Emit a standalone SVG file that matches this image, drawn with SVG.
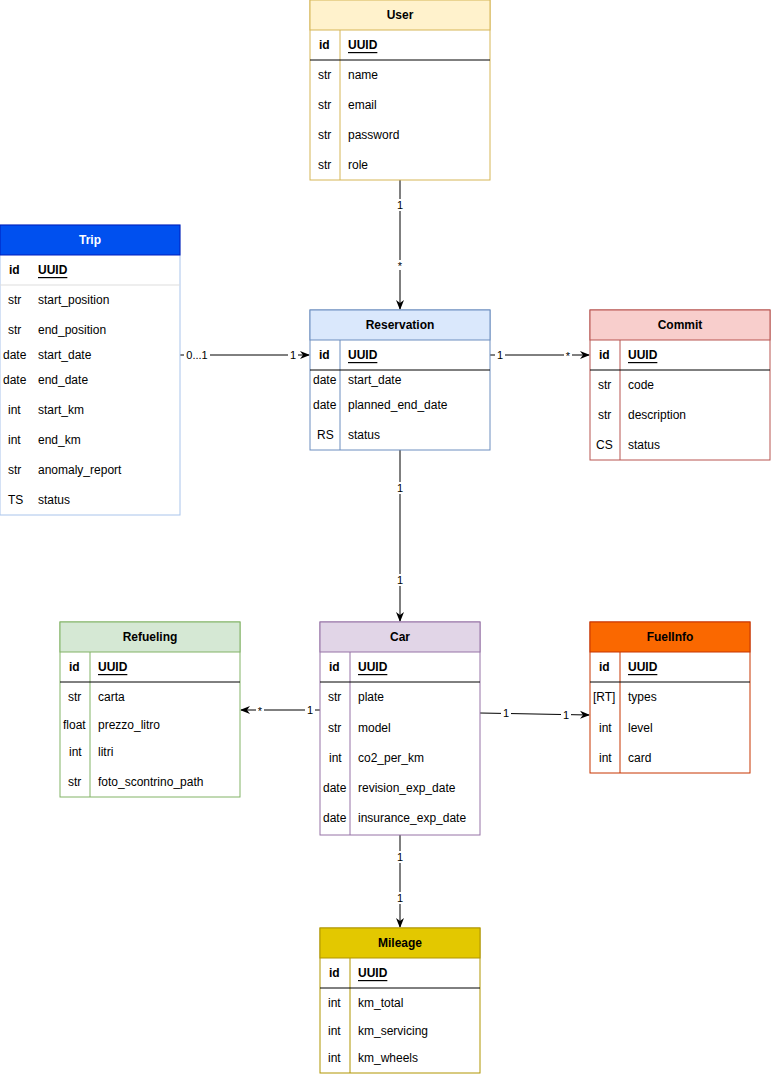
<svg xmlns="http://www.w3.org/2000/svg" width="771" height="1074" viewBox="0 0 771 1074">
<style>
text{font-family:"Liberation Sans",Arial,sans-serif;font-size:12px;fill:#000;dominant-baseline:central}
.h{font-weight:bold;text-anchor:middle}
.b{font-weight:bold}
.u{font-weight:bold;text-decoration:underline}
.t{text-anchor:middle}
.c{stroke:#000;stroke-width:1;fill:none;marker-end:url(#a)}
.lb{font-size:11px;text-anchor:middle}
</style>
<defs>
<marker id="a" viewBox="0 0 10 10" refX="9" refY="5" markerWidth="10" markerHeight="10" markerUnits="userSpaceOnUse" orient="auto"><path d="M0,1 L10,5 L0,9 L3,5 Z" fill="#000"/></marker>
</defs>
<rect width="771" height="1074" fill="#fff"/>
<g id="connectors">
<path class="c" d="M400,180 V309"/>
<path class="c" d="M180,355 H309"/>
<path class="c" d="M490,355 H589"/>
<path class="c" d="M400,450 V621"/>
<path class="c" d="M320,710 H241"/>
<path class="c" d="M480,713 L589,715"/>
<path class="c" d="M400,835 V927"/>
<g fill="#fff">
<rect x="395" y="199" width="10" height="12"/><rect x="396" y="260" width="8" height="10"/>
<rect x="184" y="349" width="26" height="12"/><rect x="288" y="349" width="10" height="12"/>
<rect x="495" y="349" width="10" height="12"/><rect x="564" y="350" width="8" height="10"/>
<rect x="395" y="482" width="10" height="12"/><rect x="395" y="574" width="10" height="12"/>
<rect x="305" y="704" width="10" height="12"/><rect x="256" y="705" width="8" height="10"/>
<rect x="501" y="707" width="10" height="12"/><rect x="561" y="709" width="10" height="12"/>
<rect x="395" y="851" width="10" height="12"/><rect x="395" y="892" width="10" height="12"/>
</g>
<text class="lb" x="400" y="205">1</text><text class="lb" x="400" y="266">*</text>
<text class="lb" x="197" y="355">0...1</text><text class="lb" x="293" y="355">1</text>
<text class="lb" x="500" y="355">1</text><text class="lb" x="568" y="356">*</text>
<text class="lb" x="400" y="488">1</text><text class="lb" x="400" y="580">1</text>
<text class="lb" x="310" y="710">1</text><text class="lb" x="260" y="711">*</text>
<text class="lb" x="506" y="713">1</text><text class="lb" x="566" y="715">1</text>
<text class="lb" x="400" y="857">1</text><text class="lb" x="400" y="898">1</text>
</g>
<g id="user">
<rect x="310" y="0" width="180" height="180" fill="#fff" stroke="#d6b656"/>
<rect x="310" y="0" width="180" height="30" fill="#fff2cc" stroke="#d6b656"/>
<line x1="340" y1="30" x2="340" y2="180" stroke="#d6b656"/>
<line x1="310" y1="60" x2="490" y2="60" stroke="#000"/>
<text class="h" x="400" y="15">User</text>
<text class="b" x="319" y="45">id</text><text class="u" x="348" y="45">UUID</text>
<text x="318" y="75">str</text><text x="348" y="75">name</text>
<text x="318" y="105">str</text><text x="348" y="105">email</text>
<text x="318" y="135">str</text><text x="348" y="135">password</text>
<text x="318" y="165">str</text><text x="348" y="165">role</text>
</g>
<g id="trip">
<rect x="0" y="225" width="180" height="290" fill="#fff" stroke="#a9c4eb"/>
<rect x="0" y="225" width="180" height="30" fill="#0050ef" stroke="#001dbc"/>
<line x1="0" y1="285" x2="180" y2="285" stroke="#ddd"/>
<text class="h" x="90" y="240" style="fill:#fff">Trip</text>
<text class="b" x="9" y="270">id</text><text class="u" x="38" y="270">UUID</text>
<text x="8" y="300">str</text><text x="38" y="300">start_position</text>
<text x="8" y="330">str</text><text x="38" y="330">end_position</text>
<text x="3" y="355">date</text><text x="38" y="355">start_date</text>
<text x="3" y="380">date</text><text x="38" y="380">end_date</text>
<text x="8" y="410">int</text><text x="38" y="410">start_km</text>
<text x="8" y="440">int</text><text x="38" y="440">end_km</text>
<text x="8" y="470">str</text><text x="38" y="470">anomaly_report</text>
<text x="8" y="500">TS</text><text x="38" y="500">status</text>
</g>
<g id="reservation">
<rect x="310" y="310" width="180" height="140" fill="#fff" stroke="#6c8ebf"/>
<rect x="310" y="310" width="180" height="30" fill="#dae8fc" stroke="#6c8ebf"/>
<line x1="340" y1="340" x2="340" y2="450" stroke="#6c8ebf"/>
<line x1="310" y1="370" x2="490" y2="370" stroke="#000"/>
<text class="h" x="400" y="325">Reservation</text>
<text class="b" x="319" y="355">id</text><text class="u" x="348" y="355">UUID</text>
<text x="313" y="380">date</text><text x="348" y="380">start_date</text>
<text x="313" y="405">date</text><text x="348" y="405">planned_end_date</text>
<text x="317" y="435">RS</text><text x="348" y="435">status</text>
</g>
<g id="commit">
<rect x="590" y="310" width="180" height="150" fill="#fff" stroke="#b85450"/>
<rect x="590" y="310" width="180" height="30" fill="#f8cecc" stroke="#b85450"/>
<line x1="620" y1="340" x2="620" y2="460" stroke="#b85450"/>
<line x1="590" y1="370" x2="770" y2="370" stroke="#000"/>
<text class="h" x="680" y="325">Commit</text>
<text class="b" x="599" y="355">id</text><text class="u" x="628" y="355">UUID</text>
<text x="598" y="385">str</text><text x="628" y="385">code</text>
<text x="598" y="415">str</text><text x="628" y="415">description</text>
<text x="596" y="445">CS</text><text x="628" y="445">status</text>
</g>
<g id="car">
<rect x="320" y="622" width="160" height="213" fill="#fff" stroke="#9673a6"/>
<rect x="320" y="622" width="160" height="30" fill="#e1d5e7" stroke="#9673a6"/>
<line x1="350" y1="652" x2="350" y2="835" stroke="#9673a6"/>
<line x1="320" y1="682" x2="480" y2="682" stroke="#000"/>
<text class="h" x="400" y="637">Car</text>
<text class="b" x="329" y="667">id</text><text class="u" x="358" y="667">UUID</text>
<text x="328" y="697">str</text><text x="358" y="697">plate</text>
<text x="328" y="728">str</text><text x="358" y="728">model</text>
<text x="329" y="758">int</text><text x="358" y="758">co2_per_km</text>
<text x="323" y="788">date</text><text x="358" y="788">revision_exp_date</text>
<text x="323" y="818">date</text><text x="358" y="818">insurance_exp_date</text>
</g>
<g id="refueling">
<rect x="60" y="622" width="180" height="175" fill="#fff" stroke="#82b366"/>
<rect x="60" y="622" width="180" height="30" fill="#d5e8d4" stroke="#82b366"/>
<line x1="90" y1="652" x2="90" y2="797" stroke="#82b366"/>
<line x1="60" y1="682" x2="240" y2="682" stroke="#000"/>
<text class="h" x="150" y="637">Refueling</text>
<text class="b" x="69" y="667">id</text><text class="u" x="98" y="667">UUID</text>
<text x="68" y="697">str</text><text x="98" y="697">carta</text>
<text x="63" y="725">float</text><text x="98" y="725">prezzo_litro</text>
<text x="69" y="752">int</text><text x="98" y="752">litri</text>
<text x="68" y="782">str</text><text x="98" y="782">foto_scontrino_path</text>
</g>
<g id="fuelinfo">
<rect x="590" y="622" width="160" height="151" fill="#fff" stroke="#C73500"/>
<rect x="590" y="622" width="160" height="30" fill="#fa6800" stroke="#C73500"/>
<line x1="620" y1="652" x2="620" y2="773" stroke="#C73500"/>
<line x1="590" y1="682" x2="750" y2="682" stroke="#000"/>
<text class="h" x="670" y="637">FuelInfo</text>
<text class="b" x="599" y="667">id</text><text class="u" x="628" y="667">UUID</text>
<text x="593" y="697">[RT]</text><text x="628" y="697">types</text>
<text x="599" y="728">int</text><text x="628" y="728">level</text>
<text x="599" y="758">int</text><text x="628" y="758">card</text>
</g>
<g id="mileage">
<rect x="320" y="928" width="160" height="145" fill="#fff" stroke="#B09500"/>
<rect x="320" y="928" width="160" height="30" fill="#e3c800" stroke="#B09500"/>
<line x1="350" y1="958" x2="350" y2="1073" stroke="#B09500"/>
<line x1="320" y1="988" x2="480" y2="988" stroke="#000"/>
<text class="h" x="400" y="943">Mileage</text>
<text class="b" x="329" y="973">id</text><text class="u" x="358" y="973">UUID</text>
<text x="328" y="1003">int</text><text x="358" y="1003">km_total</text>
<text x="328" y="1031">int</text><text x="358" y="1031">km_servicing</text>
<text x="328" y="1058">int</text><text x="358" y="1058">km_wheels</text>
</g>
</svg>
